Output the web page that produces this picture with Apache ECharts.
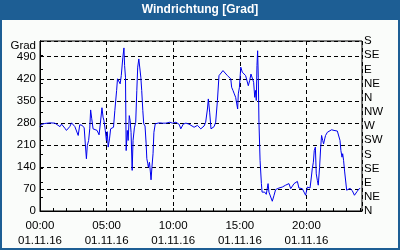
<!DOCTYPE html>
<html><head><meta charset="utf-8">
<script src="https://cdn.jsdelivr.net/npm/echarts@6/dist/echarts.min.js"></script>
<style>html,body{margin:0;padding:0;background:#fafcfa;}#c{width:400px;height:250px;}</style>
</head><body><div id="c"></div>
<script>
const titleText = 'Windrichtung [Grad]';
const yName = 'Grad';
const dateLabel = '01.11.16';
const dirLabels = ['N','NE','E','SE','S','SW','W','NW','N','NE','E','SE','S'];
// time in minutes since 00:00
const minutes = [0,7,22,45,67,75,90,97,112,119,134,142,149,157,164,172,179,190,199,204,209,213,219,224,228,233,239,246,257,266,272,279,284,288,294,299,303,307,313,318,325,331,337,345,349,355,361,366,370,373,378,381,385,388,393,397,402,406,410,415,419,425,431,436,440,445,449,454,458,463,467,473,478,481,485,488,493,497,500,504,509,513,519,525,537,552,567,585,597,612,627,634,645,657,
664,671,679,694,709,724,731,739,746,754,758,764,770,776,784,791,799,806,814,824,833,844,851,859,863,869,875,881,886,890,893,898,904,911,919,926,934,938,944,950,956,962,967,971,974,977,980,983,986,991,997,1000,1006,1012,1019,1027,1031,1039,1046,1054,1061,1069,1076,1084,1091,1099,1106,1114,1121,1129,1136,1144,1151,1159,1166,1174,1181,1189,1196,1204,1211,1216,1222,1226,1231,1235,1240,1244,1249,1253,1259,1264,1268,1273,1277,1282,1286,1294,1301,1313,1324,1339,1346,1351,1355,1360,1363,1367,1372,1376,1381,1386,1396,1406,1416,1428,1436,1442];
const direction = [268,275,278,280,279,277,268,276,263,256,268,280,274,268,266,240,274,272,264,213,166,208,224,261,321,293,261,261,256,242,279,328,298,287,256,224,252,203,229,261,256,266,319,383,420,417,404,430,428,488,518,462,425,192,256,224,303,287,250,129,224,264,282,383,457,483,488,425,383,319,277,270,213,166,152,139,155,124,99,139,182,250,277,282,280,279,279,282,279,282,275,261,276,279,
282,276,272,266,272,261,256,270,282,324,356,314,261,264,268,282,351,430,435,446,440,430,425,420,393,383,372,361,340,324,372,393,457,441,435,430,425,398,414,435,435,409,361,383,351,462,509,425,282,161,87,60,55,60,53,87,60,55,31,50,68,71,73,73,76,79,82,76,87,71,76,87,82,94,73,79,71,60,50,76,76,73,108,134,155,192,203,118,97,82,139,203,240,224,213,229,240,250,256,258,256,254,256,224,192,171,182,161,124,118,66,71,72,65,50,62,70,72];

const blue = '#1d5e94';
const font = '"Liberation Sans", Arial, sans-serif';
const chart = echarts.init(document.getElementById('c'), null, {renderer:'canvas'});
chart.setOption({
  animation:false,
  backgroundColor:'#fafcfa',
  graphic:[
    {type:'rect', shape:{x:0,y:0,width:400,height:20}, style:{fill:blue}, z:0},
    {type:'rect', shape:{x:1,y:1,width:398,height:248}, style:{fill:'none',stroke:blue,lineWidth:2}, z:0},
    {type:'text', x:200, y:10, style:{text:titleText, fill:'#fff', font:'bold 12px '+font, textAlign:'center', textVerticalAlign:'middle'}},
    {type:'text', x:36, y:46, style:{text:yName, fill:'#000', font:'11.5px '+font, textAlign:'right', textVerticalAlign:'middle'}}
  ],
  grid:{left:40,right:38,top:41,bottom:39,show:true,borderColor:'#000',borderWidth:1,backgroundColor:'#fafcfa'},
  xAxis:[
    {type:'value',min:0,max:1450,interval:60,
     axisLine:{lineStyle:{color:'#000',width:1}},
     axisTick:{inside:true,length:3,lineStyle:{color:'#000'}},
     splitLine:{show:false},
     axisLabel:{showMaxLabel:false,margin:7,color:'#000',fontFamily:font,fontSize:11.5,lineHeight:15,
       formatter:function(v){ if(v%300!==0) return ''; const h=Math.floor(v/60); return (h<10?'0':'')+h+':00\n'+dateLabel; }}},
    {type:'value',min:0,max:1450,interval:300,position:'bottom',
     axisLine:{show:false},axisTick:{show:false},axisLabel:{show:false},
     splitLine:{show:true,lineStyle:{color:'#000',type:[4,3],width:1}}}
  ],
  yAxis:[
    {type:'value',min:0,max:540,interval:70,
     axisLine:{show:true,lineStyle:{color:'#000'}},
     axisTick:{show:false},
     axisLabel:{showMaxLabel:false,margin:4,color:'#000',fontFamily:font,fontSize:11.5},
     splitLine:{show:true,lineStyle:{color:'#000',type:[4,3],width:1}}},
    {type:'value',min:0,max:540,interval:45,position:'right',
     axisLine:{show:true,lineStyle:{color:'#000'}},
     axisTick:{show:true,length:3,lineStyle:{color:'#000'}},
     axisLabel:{margin:2,color:'#000',fontFamily:font,fontSize:11.5,
       formatter:function(v){ return dirLabels[Math.round(v/45)]; }},
     splitLine:{show:false}}
  ],
  series:[{type:'line',xAxisIndex:0,yAxisIndex:0,showSymbol:false,
    data:minutes.map((m,i)=>[m,direction[i]]),
    lineStyle:{color:'#0000ee',width:1}}]
});
</script></body></html>
